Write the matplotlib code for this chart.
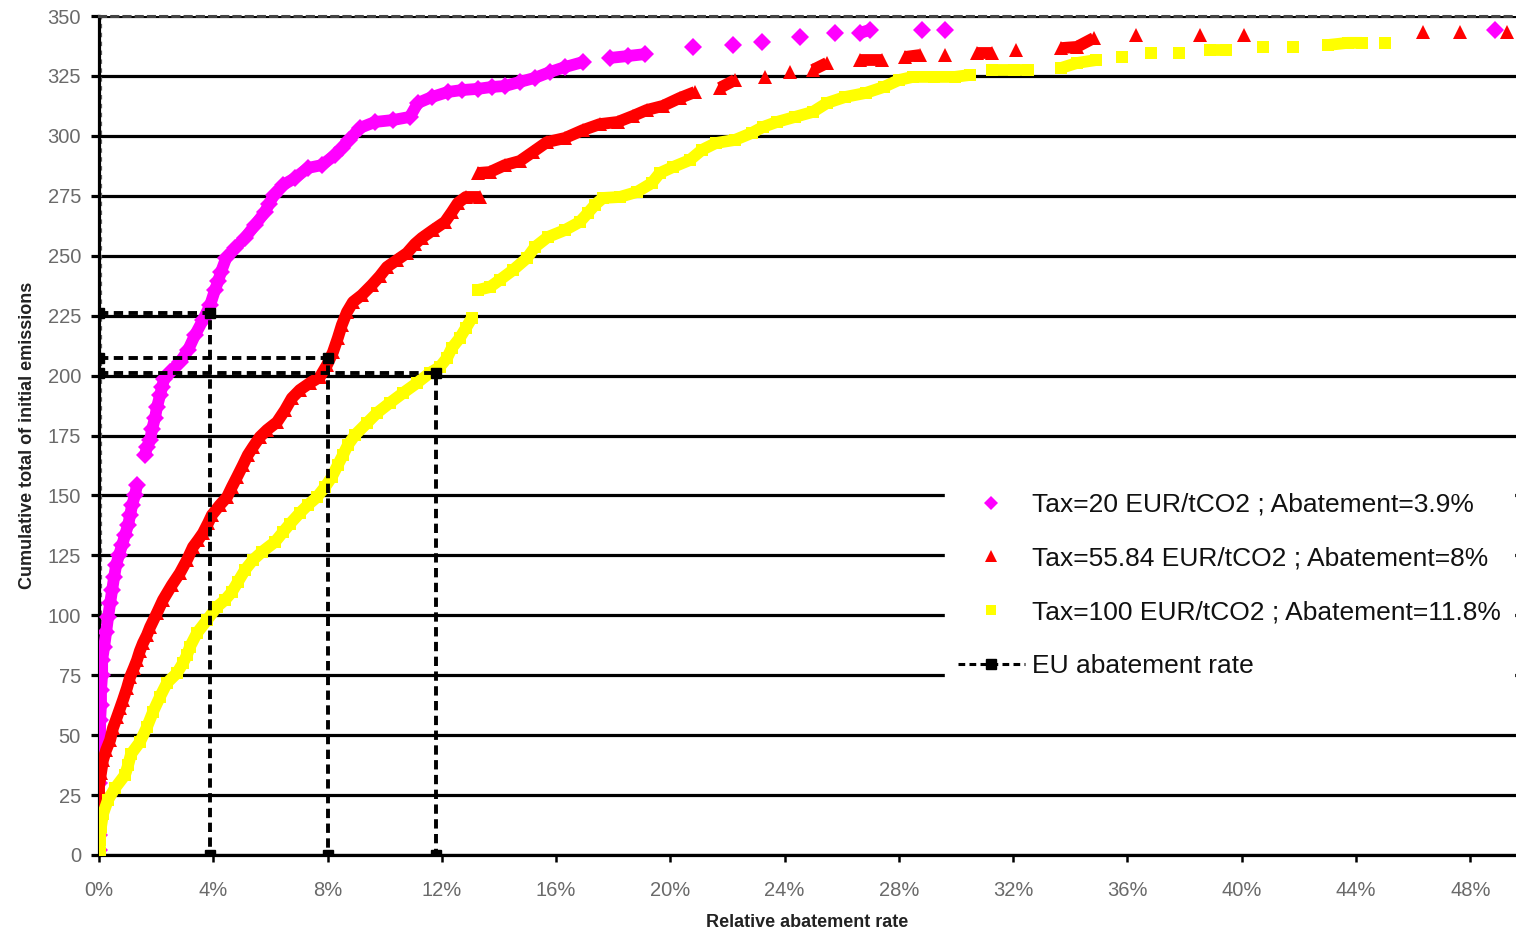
import numpy as np
import matplotlib
matplotlib.use("Agg")
import matplotlib.pyplot as plt
from matplotlib.lines import Line2D
from matplotlib.ticker import FuncFormatter, MultipleLocator

plt.rcParams['font.family'] = ['Liberation Sans', 'DejaVu Sans']

# cumulative emissions vs relative abatement rate (%), one series per tax level
tax20_rate = [0.00, 0.00, 0.00, 0.00, 0.00, 0.00, 0.04, 0.04, 0.04, 0.07, 0.07, 0.11, 0.11,
              0.18, 0.25, 0.32, 0.39, 0.46, 0.53, 0.60, 0.70, 0.81, 0.91, 1.02, 1.09, 1.16,
              1.26, 1.33, 1.61, 1.68, 1.79, 1.86, 1.96, 2.03, 2.14, 2.21, 2.28, 2.49, 2.84,
              3.12, 3.36, 3.64, 3.89, 4.06, 4.17, 4.27, 4.45, 4.76, 5.11, 5.46, 5.81, 5.95,
              6.12, 6.44, 6.86, 7.31, 7.80, 8.26, 8.50, 8.75, 9.13, 9.66, 10.29, 10.88, 11.16,
              11.65, 12.21, 12.70, 13.26, 13.75, 14.21, 14.73, 15.26, 15.78, 16.31, 16.94,
              17.88, 18.51, 19.11, 20.79, 22.19, 23.20, 24.53, 25.76, 26.63, 26.98, 28.80,
              29.61, 48.85]
tax20_cum = [2.1, 8.3, 15.4, 22.9, 30.0, 37.1, 43.8, 50.1, 56.3, 62.6, 68.8, 75.1, 81.3,
             86.8, 93.0, 99.3, 105.1, 110.5, 116.0, 121.0, 125.1, 129.3, 133.5, 137.7, 141.8,
             146.0, 150.2, 154.3, 166.9, 170.2, 173.1, 177.7, 182.3, 186.9, 191.9, 195.2,
             198.6, 201.5, 205.7, 210.7, 216.9, 223.2, 229.4, 235.7, 239.4, 243.2, 249.0,
             253.2, 257.4, 262.8, 268.2, 271.6, 275.3, 279.5, 282.4, 286.6, 287.8, 292.0,
             294.9, 298.3, 303.3, 305.8, 306.6, 307.9, 313.7, 316.2, 318.3, 319.1, 319.6,
             320.4, 320.8, 322.5, 324.2, 326.6, 328.7, 330.8, 332.5, 333.3, 334.1, 337.1,
             337.9, 339.2, 341.3, 342.9, 342.9, 344.2, 344.2, 344.2, 344.2]

tax56_rate = [0.00, 0.00, 0.00, 0.00, 0.07, 0.14, 0.25, 0.39, 0.49, 0.63, 0.74, 0.84, 0.98,
              1.09, 1.22, 1.33, 1.43, 1.54, 1.68, 1.79, 2.03, 2.24, 2.55, 2.83, 3.08, 3.29,
              3.47, 3.64, 3.82, 3.95, 4.23, 4.48, 4.65, 4.83, 5.04, 5.21, 5.39, 5.63, 5.88,
              6.23, 6.51, 6.75, 7.03, 7.38, 7.73, 7.98, 8.19, 8.36, 8.50, 8.68, 8.89, 9.20,
              9.55, 9.83, 10.08, 10.43, 10.78, 11.06, 11.30, 11.69, 12.11, 12.35, 12.56,
              12.84, 13.33, 13.26, 13.68, 14.21, 14.73, 15.19, 15.68, 16.31, 16.94, 17.53,
              18.16, 18.69, 19.18, 19.74, 20.33, 20.86, 21.73, 22.26, 23.31, 24.18, 24.99,
              25.48, 26.63, 27.40, 28.21, 28.73, 29.61, 30.73, 31.25, 32.09, 33.67, 34.23,
              34.82, 36.29, 38.53, 40.07, 46.33, 47.63, 49.27]
tax56_cum = [10.4, 16.7, 22.9, 28.4, 34.2, 39.6, 43.8, 48.0, 53.0, 57.6, 61.3, 64.7, 69.7,
             74.3, 78.0, 81.3, 85.1, 88.4, 91.8, 95.1, 101.0, 106.4, 112.6, 117.6, 123.1,
             128.5, 131.4, 134.3, 138.5, 141.8, 146.0, 149.3, 153.5, 157.7, 162.7, 166.9,
             170.2, 174.4, 177.3, 180.6, 185.6, 190.6, 194.0, 196.9, 199.4, 204.4, 209.8,
             215.7, 221.1, 226.5, 230.7, 233.6, 237.8, 241.5, 245.3, 248.2, 251.1, 254.9,
             257.4, 260.7, 264.1, 268.2, 272.0, 274.5, 274.5, 284.5, 284.9, 287.8, 289.5,
             293.3, 297.4, 299.1, 302.4, 304.9, 305.8, 308.3, 310.8, 312.5, 315.8, 318.3,
             320.0, 323.3, 324.6, 326.6, 327.5, 330.4, 331.6, 331.6, 332.9, 333.7, 333.7,
             334.6, 334.6, 335.8, 336.6, 337.1, 340.8, 342.1, 342.1, 342.1, 343.3, 343.3,
             343.3]

tax100_rate = [0.03, 0.03, 0.07, 0.14, 0.31, 0.56, 0.91, 1.02, 1.12, 1.43, 1.68, 1.89, 2.13,
               2.38, 2.73, 2.94, 3.08, 3.18, 3.43, 3.78, 4.13, 4.41, 4.65, 4.86, 5.11, 5.39,
               5.70, 6.16, 6.44, 6.68, 7.03, 7.31, 7.63, 7.91, 8.15, 8.36, 8.54, 8.71, 8.96,
               9.38, 9.73, 10.18, 10.64, 11.13, 11.58, 11.93, 12.18, 12.35, 12.63, 12.84,
               13.05, 13.26, 13.68, 14.03, 14.49, 14.98, 15.26, 15.71, 16.31, 16.83, 17.11,
               17.36, 17.64, 18.23, 18.83, 19.35, 19.63, 20.09, 20.68, 21.10, 21.59, 22.26,
               22.85, 23.24, 23.73, 24.36, 24.99, 25.48, 26.11, 26.84, 27.47, 28.00, 28.49,
               29.22, 29.96, 30.48, 31.25, 32.02, 32.51, 33.67, 34.23, 34.89, 35.80, 36.82,
               37.80, 38.88, 39.44, 40.74, 41.79, 43.01, 43.71, 44.20, 45.00]
tax100_cum = [0.8, 6.3, 11.7, 17.1, 22.9, 27.9, 33.4, 37.5, 42.1, 47.1, 53.4, 59.7, 65.9,
              71.8, 75.9, 80.1, 83.4, 86.8, 92.6, 98.0, 103.5, 106.4, 109.7, 113.9, 118.9,
              123.1, 126.4, 130.6, 134.7, 138.1, 142.7, 146.0, 149.3, 153.5, 157.7, 162.7,
              166.9, 171.0, 175.2, 180.2, 184.4, 188.6, 192.7, 196.9, 201.1, 203.6, 207.3,
              211.5, 215.7, 219.8, 224.0, 235.7, 236.9, 239.9, 244.0, 249.0, 253.6, 257.8,
              260.7, 264.1, 267.8, 271.2, 274.1, 274.5, 276.6, 280.3, 284.5, 287.0, 289.9,
              294.1, 297.0, 298.3, 301.2, 303.7, 305.8, 307.9, 310.0, 313.7, 316.2, 317.9,
              320.4, 323.3, 324.6, 324.6, 324.6, 325.4, 327.5, 327.5, 327.5, 328.3, 330.4,
              331.6, 332.9, 334.6, 334.6, 335.8, 335.8, 337.1, 337.1, 337.9, 338.8, 338.8,
              338.8]

# EU abatement rate for each tax level and the cumulative emissions where it is reached
eu_rate = [3.9, 8.0, 11.8]
eu_cum = [226, 207.5, 201]

labels = ['Tax=20 EUR/tCO2 ; Abatement=3.9%',
          'Tax=55.84 EUR/tCO2 ; Abatement=8%',
          'Tax=100 EUR/tCO2 ; Abatement=11.8%',
          'EU abatement rate']

W, H = 1516, 932
fig = plt.figure(figsize=(W / 100, H / 100), dpi=100)
ax = fig.add_axes([99 / W, 1 - 855 / H, 1 - 99 / W, (855 - 16) / H])
ax.set_xlim(0, 49.6)
ax.set_ylim(0, 350)

ax.yaxis.set_major_locator(MultipleLocator(25))
ax.xaxis.set_major_locator(MultipleLocator(4))
ax.xaxis.set_major_formatter(FuncFormatter(lambda v, p: f'{v:.0f}%'))

ax.set_axisbelow(True)
ax.grid(axis='y', color='black', linewidth=2.3)
ax.grid(axis='x', visible=False)
for gl in ax.yaxis.get_gridlines()[-1:]:
    gl.set_visible(False)

ax.spines['right'].set_visible(False)
ax.spines['left'].set_linewidth(2.3)
ax.spines['bottom'].set_linewidth(2.3)
ax.spines['top'].set_linestyle((0, (2, 2)))
ax.spines['top'].set_color('#444444')
ax.spines['top'].set_linewidth(2.2)
ax.axvline(0.07, color='#666666', linestyle=(0, (2, 2)), linewidth=1.6, zorder=1)

ax.tick_params(axis='y', length=6, width=2.3, pad=7, labelsize=14.5, labelcolor='#6a6a6a')
ax.tick_params(axis='x', length=5, width=1.8, pad=14, labelsize=14.5, labelcolor='#6a6a6a')

ax.set_xlabel('Relative abatement rate', fontsize=13, fontweight='bold', color='#222222',
              labelpad=10)
ax.set_ylabel('Cumulative total of initial emissions', fontsize=13, fontweight='bold',
              color='#222222', labelpad=8)


def draw_series(xs, ys, color, marker, ms):
    # join neighbouring points that sit close together on screen so the dense part reads as a band
    pts = ax.transData.transform(np.column_stack([xs, ys]))
    xs = np.asarray(xs, float)
    ys = np.asarray(ys, float)
    start = 0
    for i in range(1, len(xs) + 1):
        if i == len(xs) or np.hypot(*(pts[i] - pts[i - 1])) > 22:
            if i - start > 1:
                ax.plot(xs[start:i], ys[start:i], color=color, linewidth=8.5,
                        solid_capstyle='butt', zorder=3)
            start = i
    ax.plot(xs, ys, linestyle='none', marker=marker, markersize=ms, color=color,
            markeredgewidth=0, zorder=3)


draw_series(tax20_rate, tax20_cum, '#ff00ff', 'D', 9)
draw_series(tax56_rate, tax56_cum, '#ff0000', '^', 10)
draw_series(tax100_rate, tax100_cum, '#ffff00', 's', 9)

eu_style = dict(color='black', linestyle=(0, (2.4, 1.4)), linewidth=2.8, marker='s',
                markersize=7.5, zorder=4)
for r, c in zip(eu_rate, eu_cum):
    ax.plot([0, r, r], [c, c, 0], **eu_style)

handles = [Line2D([], [], linestyle='none', marker='D', markersize=7, color='#ff00ff',
                  markeredgewidth=0),
           Line2D([], [], linestyle='none', marker='^', markersize=8, color='#ff0000',
                  markeredgewidth=0),
           Line2D([], [], linestyle='none', marker='s', markersize=7, color='#ffff00',
                  markeredgewidth=0),
           Line2D([], [], color='black', linestyle=(0, (2.2, 1.4)), linewidth=2.2,
                  marker='s', markersize=6.5)]
leg = ax.legend(handles, labels, loc='upper left', bbox_to_anchor=(0.5967, 0.4474),
                frameon=True, fancybox=False, edgecolor='white', facecolor='white',
                framealpha=1, fontsize=19, labelspacing=1.13, handlelength=2.54,
                handletextpad=0.27, borderpad=0.5, borderaxespad=0)
for t in leg.get_texts():
    t.set_color('#111111')

fig.savefig('out.png', dpi=100)
